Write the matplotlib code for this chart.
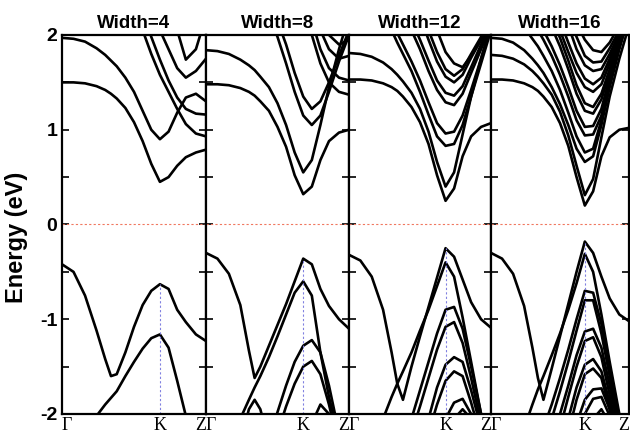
import matplotlib.pyplot as plt
import numpy as np
from matplotlib.ticker import MultipleLocator

#----------------------------------------------------
# Data: band energies (eV) sampled along Gamma-K-Z
#----------------------------------------------------
k_path = [0, .08, .16, .24, .30, .34, .38, .44, .50, .56, .62, .68, .74, .80, .86, .93, 1.0]
k_sym = [0.0, 0.68, 1.0]
k_labels = ['Γ', 'K', 'Z']
widths = [4, 8, 12, 16]

# Width = 4
bands_w4 = [
    [1.50, 1.50, 1.49, 1.46, 1.42, 1.38, 1.33, 1.23, 1.08, 0.88, 0.64, 0.45, 0.50, 0.62, 0.71, 0.76, 0.79],
    [1.97, 1.96, 1.93, 1.86, 1.79, 1.73, 1.67, 1.55, 1.40, 1.20, 1.00, 0.90, 0.98, 1.18, 1.34, 1.38, 1.30],
    [3.50, 3.40, 3.30, 3.10, 3.00, 2.90, 2.75, 2.55, 2.30, 2.05, 1.80, 1.58, 1.40, 1.22, 1.06, 0.96, 0.93],
    [3.70, 3.60, 3.50, 3.30, 3.20, 3.10, 2.95, 2.75, 2.50, 2.22, 1.98, 1.74, 1.52, 1.34, 1.22, 1.17, 1.16],
    [3.90, 3.80, 3.70, 3.55, 3.40, 3.30, 3.20, 3.00, 2.80, 2.55, 2.25, 2.05, 1.85, 1.65, 1.55, 1.62, 1.75],
    [4.00, 3.95, 3.90, 3.80, 3.70, 3.60, 3.50, 3.30, 3.10, 2.85, 2.60, 2.40, 2.20, 2.05, 1.74, 1.85, 2.20],
    [-0.42, -0.50, -0.75, -1.12, -1.42, -1.60, -1.58, -1.35, -1.08, -0.85, -0.70, -0.63, -0.68, -0.90, -1.03, -1.16, -1.23],
    [-2.60, -2.40, -2.20, -2.02, -1.90, -1.83, -1.76, -1.60, -1.45, -1.31, -1.20, -1.16, -1.30, -1.65, -2.02, -2.40, -2.70],
]

# Width = 8
bands_w8 = [
    [1.48, 1.48, 1.47, 1.44, 1.40, 1.36, 1.30, 1.20, 1.03, 0.82, 0.52, 0.32, 0.40, 0.68, 0.88, 0.97, 1.00],
    [1.84, 1.83, 1.80, 1.74, 1.68, 1.63, 1.56, 1.45, 1.28, 1.05, 0.76, 0.55, 0.68, 1.05, 1.45, 1.85, 2.20],
    [3.00, 2.95, 2.85, 2.70, 2.58, 2.50, 2.40, 2.20, 1.98, 1.70, 1.40, 1.15, 1.05, 1.15, 1.40, 1.72, 2.00],
    [3.10, 3.05, 2.95, 2.80, 2.68, 2.60, 2.52, 2.35, 2.15, 1.90, 1.60, 1.35, 1.22, 1.30, 1.50, 1.78, 2.05],
    [3.60, 3.55, 3.45, 3.30, 3.20, 3.10, 3.00, 2.85, 2.70, 2.55, 2.45, 2.30, 2.00, 1.70, 1.50, 1.40, 1.37],
    [3.70, 3.65, 3.55, 3.40, 3.30, 3.20, 3.10, 2.95, 2.80, 2.65, 2.55, 2.40, 2.15, 1.85, 1.65, 1.55, 1.52],
    [3.80, 3.75, 3.65, 3.50, 3.40, 3.30, 3.20, 3.05, 2.90, 2.75, 2.60, 2.45, 2.30, 2.05, 1.85, 1.75, 1.78],
    [3.90, 3.85, 3.75, 3.60, 3.50, 3.40, 3.30, 3.15, 3.00, 2.85, 2.70, 2.55, 2.40, 2.25, 2.00, 1.90, 1.95],
    [-0.30, -0.36, -0.52, -0.85, -1.33, -1.62, -1.50, -1.28, -1.06, -0.84, -0.60, -0.36, -0.42, -0.68, -0.86, -1.00, -1.10],
    [-2.80, -2.60, -2.35, -2.05, -1.85, -1.72, -1.60, -1.40, -1.18, -0.95, -0.72, -0.60, -0.75, -1.35, -1.82, -2.25, -2.50],
    [-3.40, -3.20, -3.00, -2.85, -2.70, -2.60, -2.50, -2.30, -1.98, -1.70, -1.45, -1.28, -1.22, -1.35, -1.70, -2.20, -2.60],
    [-3.60, -3.40, -3.20, -3.05, -2.90, -2.80, -2.70, -2.50, -2.20, -1.92, -1.68, -1.50, -1.44, -1.58, -1.90, -2.35, -2.70],
    [-3.00, -2.80, -2.60, -2.30, -1.95, -1.85, -1.95, -2.30, -2.60, -2.90, -3.10, -3.30, -3.40, -3.50, -3.60, -3.70, -3.80],
    [-3.80, -3.70, -3.60, -3.50, -3.40, -3.30, -3.20, -3.00, -2.80, -2.60, -2.40, -2.25, -2.10, -1.90, -2.00, -2.40, -2.80],
]

# Width = 12
bands_w12 = [
    [1.53, 1.53, 1.52, 1.49, 1.45, 1.41, 1.35, 1.24, 1.08, 0.85, 0.52, 0.25, 0.38, 0.72, 0.93, 1.03, 1.07],
    [1.81, 1.80, 1.77, 1.71, 1.64, 1.58, 1.51, 1.39, 1.22, 0.98, 0.66, 0.40, 0.55, 0.95, 1.35, 1.75, 2.10],
    [2.60, 2.55, 2.45, 2.25, 2.05, 1.92, 1.80, 1.62, 1.40, 1.16, 0.93, 0.83, 0.85, 1.05, 1.35, 1.70, 2.05],
    [2.70, 2.65, 2.55, 2.35, 2.15, 2.02, 1.90, 1.72, 1.52, 1.29, 1.07, 0.96, 0.98, 1.15, 1.42, 1.75, 2.10],
    [3.00, 2.90, 2.80, 2.60, 2.45, 2.32, 2.20, 2.05, 1.85, 1.62, 1.42, 1.29, 1.26, 1.38, 1.60, 1.85, 2.10],
    [3.10, 3.00, 2.90, 2.70, 2.55, 2.45, 2.35, 2.15, 1.95, 1.73, 1.52, 1.39, 1.36, 1.46, 1.66, 1.90, 2.12],
    [3.20, 3.10, 3.00, 2.85, 2.70, 2.60, 2.50, 2.35, 2.20, 1.95, 1.72, 1.56, 1.50, 1.58, 1.76, 1.95, 2.15],
    [3.30, 3.20, 3.10, 2.95, 2.80, 2.70, 2.60, 2.45, 2.30, 2.05, 1.82, 1.64, 1.57, 1.64, 1.80, 1.98, 2.20],
    [3.40, 3.30, 3.20, 3.05, 2.95, 2.85, 2.75, 2.60, 2.45, 2.25, 2.05, 1.82, 1.70, 1.66, 1.78, 1.95, 2.20],
    [-0.32, -0.38, -0.55, -0.90, -1.35, -1.68, -1.85, -1.50, -1.18, -0.87, -0.56, -0.25, -0.34, -0.58, -0.82, -1.00, -1.09],
    [-3.00, -2.80, -2.50, -2.05, -1.82, -1.68, -1.55, -1.35, -1.12, -0.90, -0.65, -0.40, -0.55, -0.98, -1.45, -2.00, -2.50],
    [-3.60, -3.40, -3.20, -2.90, -2.65, -2.45, -2.30, -2.05, -1.75, -1.45, -1.15, -0.90, -0.87, -1.10, -1.50, -2.00, -2.50],
    [-3.70, -3.50, -3.30, -3.00, -2.80, -2.65, -2.50, -2.20, -1.92, -1.62, -1.32, -1.08, -1.03, -1.25, -1.62, -2.10, -2.60],
    [-3.80, -3.70, -3.60, -3.40, -3.20, -3.00, -2.80, -2.50, -2.30, -2.05, -1.72, -1.48, -1.40, -1.45, -1.75, -2.15, -2.60],
    [-3.90, -3.80, -3.70, -3.50, -3.30, -3.10, -2.90, -2.60, -2.40, -2.20, -1.90, -1.65, -1.55, -1.60, -1.88, -2.25, -2.70],
    [-4.00, -3.90, -3.80, -3.60, -3.40, -3.20, -3.00, -2.80, -2.60, -2.40, -2.25, -2.05, -1.88, -1.84, -2.00, -2.30, -2.70],
    [-4.10, -4.00, -3.90, -3.70, -3.50, -3.30, -3.10, -2.90, -2.70, -2.50, -2.35, -2.20, -2.05, -1.95, -2.05, -2.40, -2.80],
]

# Width = 16
bands_w16 = [
    [1.53, 1.53, 1.52, 1.49, 1.45, 1.41, 1.35, 1.24, 1.07, 0.83, 0.50, 0.20, 0.35, 0.72, 0.92, 1.00, 1.02],
    [1.79, 1.78, 1.75, 1.69, 1.62, 1.56, 1.49, 1.37, 1.19, 0.94, 0.62, 0.31, 0.48, 0.92, 1.35, 1.75, 2.10],
    [1.97, 1.96, 1.92, 1.84, 1.75, 1.68, 1.60, 1.45, 1.27, 1.05, 0.80, 0.66, 0.72, 1.05, 1.45, 1.85, 2.20],
    [2.30, 2.28, 2.20, 2.08, 1.96, 1.88, 1.78, 1.62, 1.42, 1.18, 0.93, 0.76, 0.80, 1.10, 1.48, 1.88, 2.25],
    [2.60, 2.55, 2.45, 2.30, 2.15, 2.05, 1.95, 1.78, 1.58, 1.35, 1.10, 0.94, 0.95, 1.15, 1.50, 1.88, 2.20],
    [2.70, 2.65, 2.55, 2.40, 2.25, 2.15, 2.05, 1.88, 1.68, 1.45, 1.20, 1.03, 1.04, 1.22, 1.55, 1.90, 2.20],
    [2.90, 2.80, 2.70, 2.55, 2.45, 2.35, 2.25, 2.08, 1.88, 1.64, 1.38, 1.20, 1.17, 1.32, 1.60, 1.92, 2.20],
    [3.00, 2.90, 2.80, 2.65, 2.55, 2.45, 2.35, 2.18, 1.97, 1.73, 1.47, 1.28, 1.24, 1.38, 1.64, 1.95, 2.20],
    [3.10, 3.00, 2.90, 2.75, 2.65, 2.55, 2.45, 2.25, 2.05, 1.82, 1.60, 1.45, 1.40, 1.48, 1.70, 1.98, 2.25],
    [3.20, 3.10, 3.00, 2.85, 2.75, 2.65, 2.55, 2.35, 2.15, 1.92, 1.70, 1.54, 1.48, 1.55, 1.75, 2.00, 2.25],
    [3.30, 3.20, 3.10, 2.95, 2.85, 2.75, 2.65, 2.50, 2.30, 2.10, 1.85, 1.68, 1.62, 1.64, 1.80, 2.02, 2.25],
    [3.40, 3.30, 3.20, 3.05, 2.95, 2.85, 2.75, 2.60, 2.42, 2.20, 1.98, 1.78, 1.71, 1.72, 1.86, 2.05, 2.25],
    [3.50, 3.40, 3.30, 3.15, 3.05, 2.95, 2.85, 2.70, 2.52, 2.32, 2.12, 1.95, 1.84, 1.82, 1.92, 2.10, 2.30],
    [-0.30, -0.36, -0.52, -0.86, -1.30, -1.62, -1.85, -1.52, -1.18, -0.84, -0.50, -0.18, -0.30, -0.55, -0.78, -0.95, -1.02],
    [-3.00, -2.80, -2.50, -2.15, -1.90, -1.74, -1.60, -1.38, -1.15, -0.90, -0.62, -0.31, -0.50, -0.95, -1.45, -2.00, -2.50],
    [-3.40, -3.20, -3.00, -2.75, -2.50, -2.30, -2.15, -1.90, -1.62, -1.32, -1.00, -0.70, -0.72, -1.05, -1.50, -2.05, -2.50],
    [-3.50, -3.30, -3.10, -2.85, -2.65, -2.45, -2.30, -2.05, -1.76, -1.45, -1.12, -0.80, -0.80, -1.15, -1.60, -2.15, -2.60],
    [-3.70, -3.50, -3.30, -3.10, -2.90, -2.75, -2.60, -2.30, -2.00, -1.70, -1.38, -1.13, -1.10, -1.30, -1.70, -2.20, -2.70],
    [-3.80, -3.60, -3.40, -3.20, -3.00, -2.85, -2.70, -2.45, -2.15, -1.82, -1.50, -1.23, -1.19, -1.40, -1.80, -2.30, -2.80],
    [-3.90, -3.70, -3.50, -3.30, -3.10, -2.95, -2.80, -2.60, -2.35, -2.05, -1.72, -1.48, -1.42, -1.55, -1.88, -2.30, -2.80],
    [-4.00, -3.80, -3.60, -3.40, -3.20, -3.05, -2.90, -2.70, -2.45, -2.20, -1.85, -1.58, -1.52, -1.62, -1.95, -2.40, -2.90],
    [-4.10, -3.90, -3.70, -3.50, -3.30, -3.15, -3.00, -2.80, -2.60, -2.40, -2.10, -1.85, -1.74, -1.73, -1.95, -2.30, -2.90],
    [-4.20, -4.00, -3.80, -3.60, -3.40, -3.25, -3.10, -2.90, -2.70, -2.50, -2.25, -2.00, -1.84, -1.82, -2.02, -2.40, -3.00],
    [-4.30, -4.10, -3.90, -3.70, -3.50, -3.35, -3.20, -3.00, -2.80, -2.60, -2.40, -2.20, -2.05, -1.95, -2.10, -2.50, -3.00],
]

all_bands = [bands_w4, bands_w8, bands_w12, bands_w16]

#----------------------------------------------------
# Figure layout (panels touching each other)
#----------------------------------------------------
fig = plt.figure(figsize=(6.3, 4.34), dpi=100)
edges = [62, 206, 349, 491, 629]   # panel borders in pixels
bottom = (434 - 414) / 434.
height = (414 - 35) / 434.

for i, bands in enumerate(all_bands):
    ax = fig.add_axes([edges[i] / 630., bottom, (edges[i + 1] - edges[i]) / 630., height])
    for b in bands:
        ax.plot(k_path, b, color='k', linewidth=1.9, solid_joinstyle='round',
                solid_capstyle='round')
    # Fermi level
    ax.axhline(0, color='#f07860', linestyle=(0, (2, 2)), linewidth=0.8)
    # dotted line at K up to valence band maximum
    iK = k_path.index(0.68)
    vbm = max(b[iK] for b in bands if b[iK] < 0)
    ax.plot([0.68, 0.68], [-2, vbm], color='#8080e0', linestyle=(0, (2, 2)), linewidth=0.8)

    ax.set_xlim(0, 1)
    ax.set_ylim(-2, 2)
    ax.set_xticks(k_sym)
    ax.set_xticklabels(k_labels, fontsize=13, family='Liberation Serif')
    ax.get_xticklabels()[0].set_ha('left')
    ax.get_xticklabels()[2].set_ha('right')
    ax.tick_params(axis='x', length=0, pad=2)
    ax.yaxis.set_major_locator(MultipleLocator(1))
    ax.yaxis.set_minor_locator(MultipleLocator(0.5))
    ax.tick_params(axis='y', which='both', direction='in', left=True, right=True,
                   width=1.2, length=5)
    for s in ax.spines.values():
        s.set_linewidth(1.6)
    ax.set_title('Width=%d' % widths[i], fontsize=13.5, weight='bold', pad=5,
                 family='Liberation Sans')
    if i == 0:
        ax.set_yticks([-2, -1, 0, 1, 2])
        ax.set_yticklabels(['-2', '-1', '0', '1', '2'], fontsize=14, weight='bold',
                           family='Liberation Sans')
        ax.set_ylabel('Energy (eV)', fontsize=17, weight='bold', family='Liberation Sans')
        ax.yaxis.set_label_coords(-0.235, 0.465)
    else:
        ax.set_yticklabels([])

fig.savefig('out.png', dpi=100)
